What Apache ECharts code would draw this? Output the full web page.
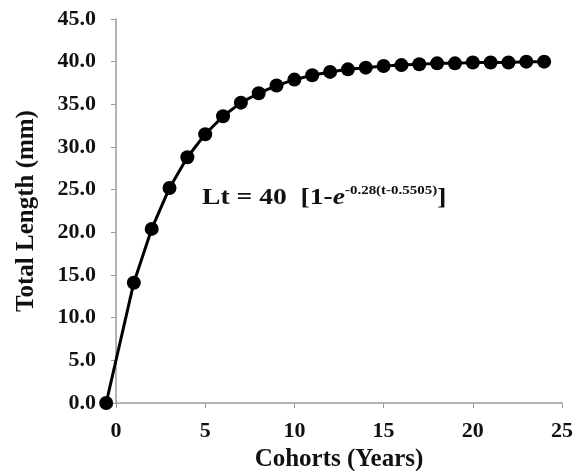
<!DOCTYPE html>
<html>
<head>
<meta charset="utf-8">
<script src="https://cdn.jsdelivr.net/npm/echarts@6/dist/echarts.min.js"></script>
<style>
  html, body { margin: 0; padding: 0; background: #fff; }
  #growthChart { width: 574px; height: 471px; }
</style>
</head>
<body>
<div id="growthChart"></div>
<script>
// cohort ages (years), first point is t0
const ages = [-0.55, 1, 2, 3, 4, 5, 6, 7, 8, 9, 10, 11, 12, 13, 14, 15, 16, 17, 18, 19, 20, 21, 22, 23, 24];
// total length (mm)
const lengths = [0, 14.1, 20.4, 25.2, 28.8, 31.5, 33.6, 35.2, 36.3, 37.2, 37.9, 38.4, 38.8, 39.1, 39.3, 39.5, 39.6, 39.7, 39.8, 39.8, 39.9, 39.9, 39.9, 40.0, 40.0];

const serif = "'Liberation Serif', 'DejaVu Serif', serif";
const axisGray = "#9a9a9a";
let chart = echarts.init(document.getElementById("growthChart"));

// grid 0 = visible axes (0..25), grid 1 = data grid reaching back to t0, same px per year
let option = {
  animation: false,
  grid: [
    { left: 116, right: 12, top: 19, bottom: 68, outerBoundsMode: "none" },
    { left: 106, right: 12, top: 19, bottom: 68, outerBoundsMode: "none" },
  ],
  xAxis: [
    {
      gridIndex: 0,
      type: "value",
      min: 0,
      max: 25,
      interval: 5,
      name: "Cohorts (Years)",
      nameLocation: "middle",
      nameGap: 40,
      nameTextStyle: { fontFamily: serif, fontWeight: "bold", fontSize: 25, color: "#111" },
      axisLine: { lineStyle: { color: axisGray, width: 1.5 } },
      axisTick: { show: true, length: 5, lineStyle: { color: axisGray } },
      axisLabel: { fontFamily: serif, fontWeight: "bold", fontSize: 22, color: "#111", margin: 17 },
      splitLine: { show: false },
    },
    {
      gridIndex: 1,
      type: "value",
      min: -0.56,
      max: 25,
      show: false,
      splitLine: { show: false },
    },
  ],
  yAxis: [
    {
      gridIndex: 0,
      type: "value",
      min: 0,
      max: 45,
      interval: 5,
      name: "Total Length (mm)",
      nameLocation: "middle",
      nameGap: 77,
      nameTextStyle: { fontFamily: serif, fontWeight: "bold", fontSize: 25, color: "#111" },
      axisLine: { show: true, lineStyle: { color: axisGray, width: 1.5 } },
      axisTick: { show: true, length: 5, lineStyle: { color: axisGray } },
      axisLabel: {
        fontFamily: serif, fontWeight: "bold", fontSize: 22, color: "#111", margin: 20,
        formatter: (v) => v.toFixed(1),
      },
      splitLine: { show: false },
    },
    {
      gridIndex: 1,
      type: "value",
      min: 0,
      max: 45,
      show: false,
      splitLine: { show: false },
    },
  ],
  graphic: [
    {
      type: "text",
      x: 202,
      y: 184,
      scaleX: 1.15,
      style: {
        text: "{b|Lt = 40  [1-}{e|e}{s|-0.28(t-0.5505)}{b|]}",
        rich: {
          b: { fontFamily: serif, fontWeight: "bold", fontSize: 24, fill: "#111" },
          e: { fontFamily: serif, fontWeight: "bold", fontStyle: "italic", fontSize: 24, fill: "#111" },
          s: { fontFamily: serif, fontWeight: "bold", fontSize: 13, fill: "#111", padding: [0, 0, 14, 0] },
        },
      },
    },
  ],
  series: [
    {
      type: "line",
      xAxisIndex: 1,
      yAxisIndex: 1,
      data: ages.map((a, i) => [a, lengths[i]]),
      clip: false,
      symbol: "circle",
      symbolSize: 14,
      showAllSymbol: true,
      lineStyle: { color: "#000", width: 3 },
      itemStyle: { color: "#000" },
    },
  ],
};

chart.setOption(option);
</script>
</body>
</html>
